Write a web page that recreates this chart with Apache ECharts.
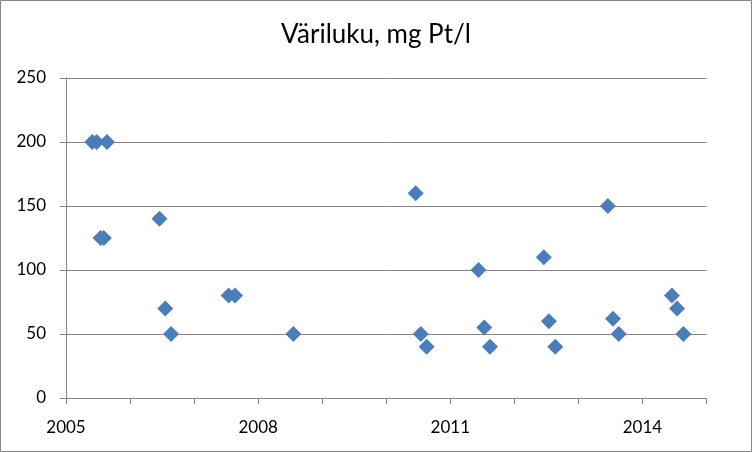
<!DOCTYPE html>
<html>
<head>
<meta charset="utf-8">
<script src="https://cdn.jsdelivr.net/npm/echarts@6/dist/echarts.min.js"></script>
<style>
html,body{margin:0;padding:0;background:#fff;}
#chart{width:752px;height:452px;}
</style>
</head>
<body>
<div id="chart"></div>
<script>
var titleText = 'Väriluku, mg Pt/l';
var years = [2005.41, 2005.48, 2005.54, 2005.59, 2005.64, 2006.46, 2006.55, 2006.64, 2007.54, 2007.64, 2008.55, 2010.46, 2010.54, 2010.63, 2011.44, 2011.53, 2011.62, 2012.46, 2012.54, 2012.64, 2013.46, 2013.54, 2013.63, 2014.46, 2014.54, 2014.64];
var values = [200, 200, 125, 125, 200, 140, 70, 50, 80, 80, 50, 160, 50, 40, 100, 55, 40, 110, 60, 40, 150, 62, 50, 80, 70, 50];
var xTickLabels = [2005, 2008, 2011, 2014];
var yTicks = [0, 50, 100, 150, 200, 250];

var data = years.map(function (y, i) { return [y, values[i]]; });
var chart = echarts.init(document.getElementById('chart'), null, {renderer: 'canvas'});
var FONT = 'Lato';
chart.setOption({
  animation: false,
  backgroundColor: '#ffffff',
  title: {
    text: titleText,
    left: 'center',
    top: 17,
    textStyle: {fontFamily: FONT, fontSize: 26, fontWeight: 'normal', color: '#000'}
  },
  graphic: [{
    type: 'rect',
    shape: {x: 0.5, y: 0.5, width: 751, height: 451},
    style: {fill: 'none', stroke: '#868686', lineWidth: 1},
    silent: true
  }],
  grid: {left: 66, right: 45.5, top: 78, bottom: 54, containLabel: false},
  xAxis: {
    type: 'value',
    min: 2005,
    max: 2015,
    interval: 1,
    axisLine: {show: true, lineStyle: {color: '#868686', width: 1}},
    axisTick: {show: true, length: 6, lineStyle: {color: '#868686'}},
    splitLine: {show: false},
    axisLabel: {
      fontFamily: FONT, fontSize: 17, color: '#000', margin: 21,
      formatter: function (v) { return xTickLabels.indexOf(Math.round(v)) >= 0 ? String(Math.round(v)) : ''; }
    }
  },
  yAxis: {
    type: 'value',
    min: yTicks[0],
    max: yTicks[yTicks.length - 1],
    interval: 50,
    axisLine: {show: true, lineStyle: {color: '#868686', width: 1}},
    axisTick: {show: true, length: 6, lineStyle: {color: '#868686'}},
    splitLine: {show: true, lineStyle: {color: '#868686', width: 1}},
    axisLabel: {fontFamily: FONT, fontSize: 17, color: '#000', margin: 20}
  },
  series: [{
    type: 'scatter',
    data: data,
    symbol: 'diamond',
    symbolSize: 16,
    itemStyle: {color: '#4A7EBB', opacity: 1},
    z: 3
  }]
});
</script>
</body>
</html>
